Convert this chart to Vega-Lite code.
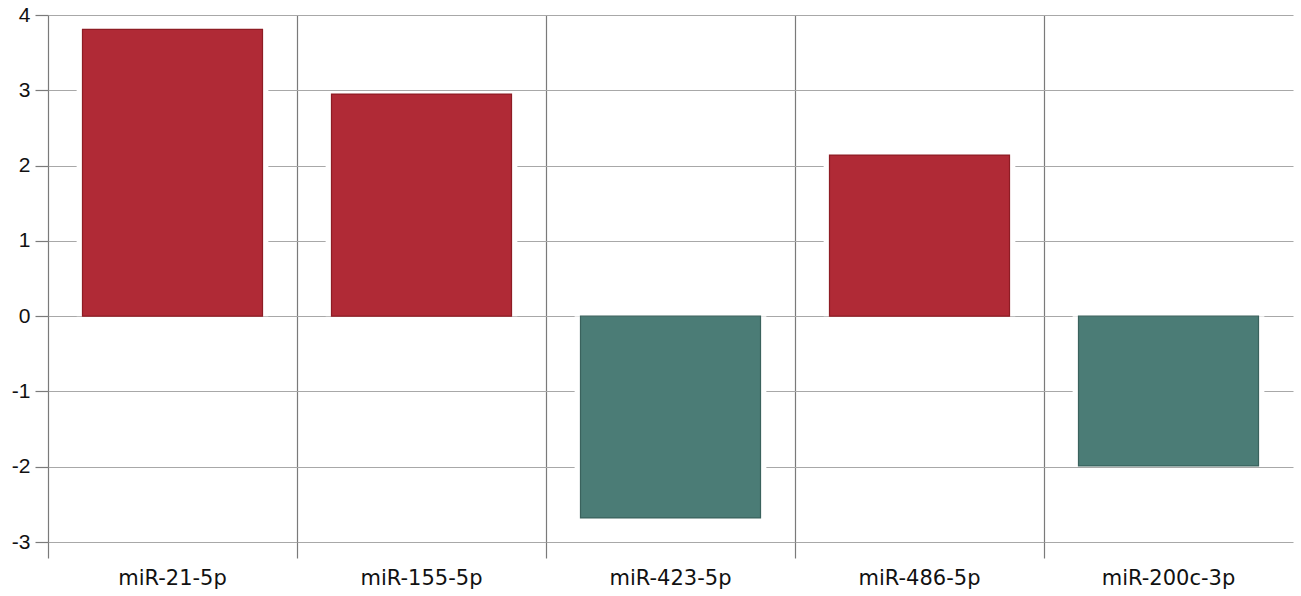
{
  "$schema": "https://vega.github.io/schema/vega-lite/v6.json",
  "autosize": "none",
  "padding": {"left": 48, "top": 15, "right": 8, "bottom": 54},
  "width": 1245,
  "height": 527,
  "background": "white",
  "data": {
    "values": [
      {"mirna": "miR-21-5p", "fc": 3.81},
      {"mirna": "miR-155-5p", "fc": 2.95},
      {"mirna": "miR-423-5p", "fc": -2.68},
      {"mirna": "miR-486-5p", "fc": 2.14},
      {"mirna": "miR-200c-3p", "fc": -1.99}
    ]
  },
  "encoding": {
    "x": {
      "field": "mirna",
      "type": "nominal",
      "sort": null,
      "title": null,
      "scale": {"paddingInner": 0, "paddingOuter": 0},
      "axis": {
        "bandPosition": 0,
        "domain": false,
        "grid": true,
        "gridColor": "#7a7a7a",
        "gridWidth": 1.2,
        "gridOpacity": 1,
        "ticks": true,
        "tickColor": "#7a7a7a",
        "tickSize": 16,
        "tickWidth": 1.2,
        "labelAngle": 0,
        "labelFont": "DejaVu Sans",
        "labelFontSize": 21,
        "labelColor": "#111111",
        "labelPadding": 9
      }
    },
    "y": {
      "field": "fc",
      "type": "quantitative",
      "title": null,
      "scale": {"domain": [-3, 4], "nice": false, "zero": false},
      "axis": {
        "values": [-3, -2, -1, 0, 1, 2, 3, 4],
        "labelExpr": "'' + datum.value",
        "domain": false,
        "grid": true,
        "gridColor": "#a8a8a8",
        "gridWidth": 1.2,
        "gridOpacity": 1,
        "tickColor": "#7a7a7a",
        "tickSize": 13,
        "tickWidth": 1.2,
        "labelFont": "Liberation Sans",
        "labelFontSize": 21,
        "labelColor": "#111111",
        "labelPadding": 5
      }
    },
    "y2": {"datum": 0}
  },
  "layer": [
    {
      "mark": {"type": "bar", "color": "white", "width": {"band": 0.77}}
    },
    {
      "mark": {"type": "bar", "width": {"band": 0.723}, "strokeWidth": 1.2},
      "encoding": {
        "color": {
          "condition": {"test": "datum.fc >= 0", "value": "#b02a36"},
          "value": "#4b7c76"
        },
        "stroke": {
          "condition": {"test": "datum.fc >= 0", "value": "#8e1c24"},
          "value": "#3a625d"
        }
      }
    }
  ],
  "config": {"view": {"stroke": null}}
}
